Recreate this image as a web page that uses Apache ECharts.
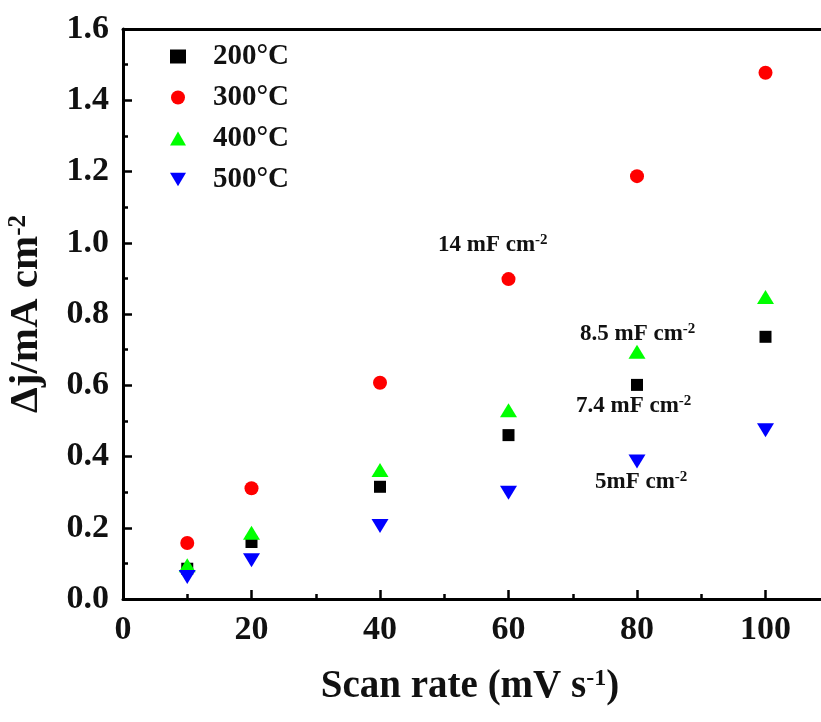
<!DOCTYPE html>
<html>
<head>
<meta charset="utf-8">
<script src="https://cdn.jsdelivr.net/npm/echarts@6/dist/echarts.min.js"></script>
<style>html,body{margin:0;padding:0;background:#fff;}#c{width:821px;height:722px;}</style>
</head>
<body>
<div id="c"></div>
<script>
const scanRates = [10, 20, 40, 60, 80, 100];
const seriesNames = ['200°C', '300°C', '400°C', '500°C'];
const j200 = [0.085, 0.160, 0.315, 0.460, 0.601, 0.736];
const j300 = [0.157, 0.311, 0.607, 0.898, 1.187, 1.477];
const j400 = [0.095, 0.186, 0.362, 0.530, 0.694, 0.848];
const j500 = [0.062, 0.109, 0.205, 0.298, 0.386, 0.474];
const xTicks = [0, 20, 40, 60, 80, 100];
const yTicks = ['0.0', '0.2', '0.4', '0.6', '0.8', '1.0', '1.2', '1.4', '1.6'];
const annotations = ['14 mF cm', '8.5 mF cm', '7.4 mF cm', '5mF cm'];

const FONT = '"Liberation Serif", "Times New Roman", serif';
const chart = echarts.init(document.getElementById('c'), null, {renderer: 'canvas'});

function pts(arr) { return scanRates.map((x, i) => [x, arr[i]]); }
const styles = [
  {symbol: 'rect', size: [12, 12], color: '#000000', icon: 'rect'},
  {symbol: 'circle', size: 14, color: '#ff0000', icon: 'circle'},
  {symbol: 'triangle', size: [17, 14], color: '#00ff00', icon: 'triangle'},
  {symbol: 'triangle', size: [17, 14], color: '#0000ff', rotate: 180, icon: 'path://M0,0 L20,0 L10,17 Z'}
];
const dataSets = [j200, j300, j400, j500];

const annPos = [[438, 256], [580, 345], [576, 417], [595, 493]];

const option = {
  backgroundColor: '#fff',
  animation: false,
  grid: {left: 123, top: 29, bottom: 123, width: 771, outerBoundsMode: 'none', containLabel: false},
  legend: {
    orient: 'vertical', left: 165, top: 37,
    itemWidth: 16, itemHeight: 14, itemGap: 12,
    data: seriesNames.map((n, i) => ({name: n, icon: styles[i].icon})),
    textStyle: {fontFamily: FONT, fontWeight: 'bold', fontSize: 29, color: '#111', padding: [0, 0, 0, 22], lineHeight: 25}
  },
  xAxis: [{
    type: 'value', min: 0, max: 120, interval: 20,
    name: 'Scan rate (mV s{sup|-1})',
    nameLocation: 'middle', nameGap: 68,
    nameTextStyle: {fontFamily: FONT, fontWeight: 'bold', fontSize: 39, color: '#111', padding: [0, 0, 0, -77],
      rich: {sup: {fontFamily: FONT, fontWeight: 'bold', fontSize: 24, color: '#111', verticalAlign: 'top', padding: [0, 0, 15, 0]}}},
    axisLine: {show: true, lineStyle: {color: '#000', width: 3}},
    axisTick: {show: true, inside: true, length: 9, lineStyle: {width: 2.5, color: '#000'}},
    minorTick: {show: true, splitNumber: 2, length: 5, lineStyle: {width: 2.5, color: '#000'}},
    axisLabel: {margin: 14, fontFamily: FONT, fontWeight: 'bold', fontSize: 34, color: '#111',
      formatter: v => (xTicks.indexOf(v) >= 0 ? String(v) : '')},
    splitLine: {show: false}
  }, {
    type: 'value', position: 'top', min: 0, max: 120,
    axisLine: {show: true, onZero: false, lineStyle: {color: '#000', width: 3}},
    axisTick: {show: false}, axisLabel: {show: false}, splitLine: {show: false}
  }],
  yAxis: {
    type: 'value', min: 0, max: 1.6, interval: 0.2,
    name: 'Δj/mA cm{sup|-2}',
    nameLocation: 'middle', nameGap: 76, nameRotate: 90,
    nameTextStyle: {fontFamily: FONT, fontWeight: 'bold', fontSize: 41, color: '#111',
      rich: {sup: {fontFamily: FONT, fontWeight: 'bold', fontSize: 25, color: '#111', verticalAlign: 'top', padding: [0, 0, 16, 0]}}},
    axisLine: {show: true, lineStyle: {color: '#000', width: 3}},
    axisTick: {show: true, inside: true, length: 9, lineStyle: {width: 2.5, color: '#000'}},
    minorTick: {show: true, splitNumber: 2, length: 5, lineStyle: {width: 2.5, color: '#000'}},
    axisLabel: {margin: 14, fontFamily: FONT, fontWeight: 'bold', fontSize: 34, color: '#111',
      formatter: v => yTicks[Math.round(v / 0.2)]},
    splitLine: {show: false}
  },
  series: dataSets.map((d, i) => ({
    name: seriesNames[i], type: 'scatter', xAxisIndex: 0,
    symbol: styles[i].symbol, symbolSize: styles[i].size, symbolRotate: styles[i].rotate || 0,
    itemStyle: {color: styles[i].color, opacity: 1},
    data: pts(d)
  })),
  graphic: annotations.map((t, i) => ({
    type: 'text', left: annPos[i][0], top: annPos[i][1] - 23,
    style: {
      text: t + '{sup|-2}', fontFamily: FONT, fontWeight: 'bold', fontSize: 23, fill: '#111',
      rich: {sup: {fontFamily: FONT, fontWeight: 'bold', fontSize: 15, fill: '#111', verticalAlign: 'top', padding: [0, 0, 10, 0]}}
    }
  }))
};
chart.setOption(option);
</script>
</body>
</html>
